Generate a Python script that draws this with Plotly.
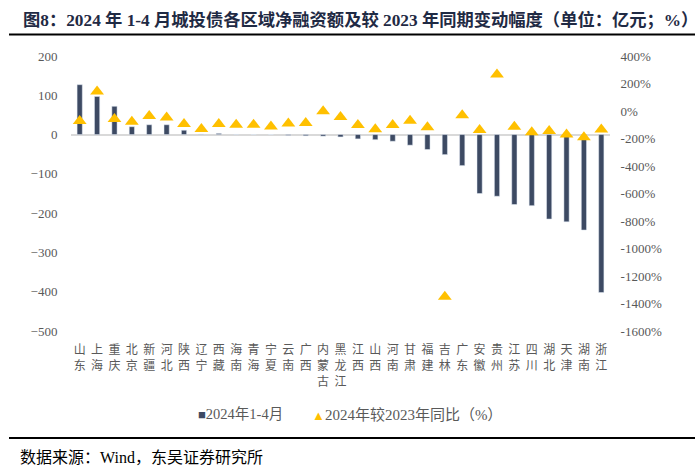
import plotly.graph_objects as go

regions = ["山东", "上海", "重庆", "北京", "新疆", "河北", "陕西", "辽宁", "西藏", "海南",
           "青海", "宁夏", "云南", "广西", "内蒙古", "黑龙江", "江西", "山西", "河南", "甘肃",
           "福建", "吉林", "广东", "安徽", "贵州", "江苏", "四川", "湖北", "天津", "湖南", "浙江"]
net_financing = [127, 97, 72, 20, 25, 25, 11, 1, 3, 0.5,
                 0.3, 0.2, -2, -3, -4, -6, -11, -13, -17, -27,
                 -38, -51, -79, -150, -157, -178, -181, -215, -222, -243, -402]
yoy_change = [-73, 141, -58, -78, -36, -47, -94, -130, -94, -100,
              -100, -113, -90, -88, -2, -44, -101, -132, -101, -71,
              -119, -1351, -31, -138, 266, -114, -154, -145, -170, -191, -135]

left_ticks = [200, 100, 0, -100, -200, -300, -400, -500]
right_ticks = [400, 200, 0, -200, -400, -600, -800, -1000, -1200, -1400, -1600]

series_names = ["2024年1-4月", "2024年较2023年同比（%）"]
BAR_COLOR = "#3d4a63"
MARK_COLOR = "#ffc000"

FONT = "Liberation Serif, 'Times New Roman', 'Noto Sans CJK SC', serif"
CJK = "'Noto Sans CJK SC', sans-serif"

tick_text = ["<br>".join(list(r)) for r in regions]

# plot area in pixels
L, R, T, B = 71, 610, 56, 331
PW, PH = R - L, B - T


def px(x):
    return (x - L) / PW


def py(y):
    return (B - y) / PH


fig = go.Figure()
fig.add_trace(go.Bar(
    x=regions, y=net_financing, name=series_names[0],
    marker=dict(color=BAR_COLOR), yaxis="y",
))
fig.add_trace(go.Scatter(
    x=regions, y=yoy_change, name=series_names[1],
    mode="markers", marker=dict(symbol="triangle-up", size=12, color=MARK_COLOR),
    yaxis="y2",
))

fig.update_layout(
    width=700, height=471,
    margin=dict(l=L, r=700 - R, t=T, b=471 - B),
    paper_bgcolor="white", plot_bgcolor="white",
    showlegend=False,
    bargap=0.7,
    font=dict(family=FONT, size=13, color="#595959"),
    xaxis=dict(
        range=[-0.5, len(regions) - 0.5],
        tickmode="array", tickvals=regions, ticktext=tick_text,
        tickangle=0, showgrid=False, showline=False, zeroline=False,
        ticks="outside", ticklen=8, tickcolor="rgba(0,0,0,0)",
        tickfont=dict(family=CJK, size=12, color="#595959"),
    ),
    yaxis=dict(
        range=[-500, 200], tickmode="array", tickvals=left_ticks,
        showgrid=False, showline=False, zeroline=True,
        zerolinecolor="#d9d9d9", zerolinewidth=1.5,
        ticks="outside", ticklen=10, tickcolor="rgba(0,0,0,0)",
        tickfont=dict(family=FONT, size=13, color="#595959"),
    ),
    yaxis2=dict(
        range=[-1600, 400], tickmode="array", tickvals=right_ticks,
        ticktext=[f"{v}%" for v in right_ticks],
        overlaying="y", side="right",
        showgrid=False, showline=False, zeroline=False,
        ticks="outside", ticklen=7, tickcolor="rgba(0,0,0,0)",
        tickfont=dict(family=FONT, size=13, color="#595959"),
    ),
)

# title
fig.add_annotation(
    text="图8：2024 年 1-4 月城投债各区域净融资额及较 2023 年同期变动幅度（单位：亿元；%）",
    xref="paper", yref="paper", x=px(21), y=py(20),
    xanchor="left", yanchor="middle", showarrow=False,
    font=dict(family=FONT, size=17.3, color="#1f2a44", weight="bold"),
)
# legend (drawn as text)
fig.add_annotation(
    text=f"<span style='color:{BAR_COLOR};font-size:13px'>■</span>{series_names[0]}",
    xref="paper", yref="paper", x=px(196), y=py(414),
    xanchor="left", yanchor="middle", showarrow=False,
    font=dict(family=FONT, size=14.5, color="#595959"),
)
fig.add_annotation(
    text=f"<span style='color:{MARK_COLOR};font-size:13px'>▲</span>{series_names[1]}",
    xref="paper", yref="paper", x=px(310), y=py(414),
    xanchor="left", yanchor="middle", showarrow=False,
    font=dict(family=FONT, size=15, color="#595959"),
)
# source
fig.add_annotation(
    text="数据来源：Wind，东吴证券研究所",
    xref="paper", yref="paper", x=px(18), y=py(457),
    xanchor="left", yanchor="middle", showarrow=False,
    font=dict(family=FONT, size=16, color="#000000"),
)
fig.add_shape(type="line", xref="paper", yref="paper",
              x0=px(9), x1=px(695), y0=py(34.5), y1=py(34.5),
              line=dict(color="#000000", width=2))
fig.add_shape(type="line", xref="paper", yref="paper",
              x0=px(9), x1=px(695), y0=py(438), y1=py(438),
              line=dict(color="#000000", width=2))

fig.write_html("out.html", config={"displayModeBar": False},
               post_script="document.body.style.margin='0';")
